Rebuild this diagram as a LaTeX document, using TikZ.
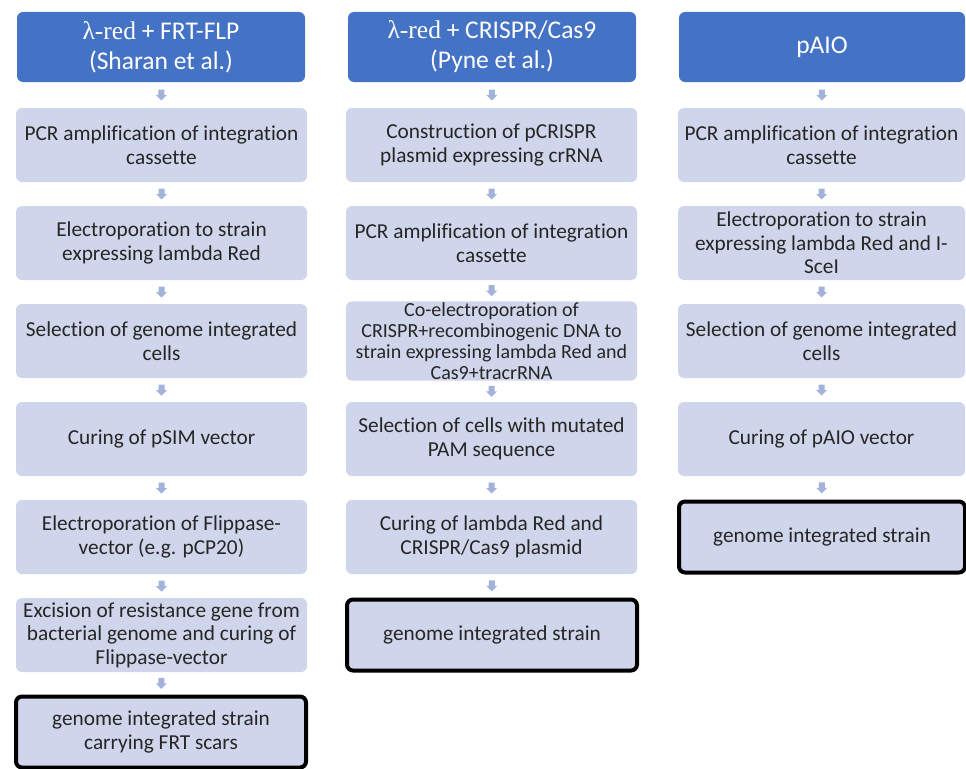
\documentclass[tikz,border=0pt]{standalone}
\usepackage{fontspec}
\setmainfont{Carlito}[Ligatures=NoCommon]
\newfontfamily\lamfont{Liberation Serif}
\definecolor{hdrblue}{HTML}{4472C4}
\definecolor{boxfill}{HTML}{CFD5EA}
\definecolor{arrowc}{HTML}{A3B2DA}
\definecolor{txtc}{HTML}{262626}
\tikzset{
  hdr/.style={fill=hdrblue, draw=none, rounded corners=6pt, minimum width=288pt, minimum height=70pt,
    text=white, align=center, inner sep=2pt, font=\fontsize{25.5}{30}\selectfont},
  stepbox/.style={fill=boxfill, draw=none, rounded corners=6pt, minimum width=291pt, minimum height=74pt,
    text=txtc, align=center, inner sep=1pt, font=\fontsize{21.3}{23.5}\selectfont},
  finalbox/.style={stepbox, draw=black, line width=4pt, minimum width=290pt, minimum height=71pt},
  downarr/.style={fill=arrowc, draw=none}
}
\begin{document}
\begin{tikzpicture}[x=1pt,y=-1pt]
\useasboundingbox (0,0) rectangle (966,768);
% column 1
\node[hdr] (h1) at (161,47) {{\lamfont λ-red} + FRT-FLP\\(Sharan et al.)};
\node[stepbox] (a1) at (161.5,145) {PCR amplification of integration\\cassette};
\node[stepbox] (a2) at (161.5,243) {Electroporation to strain\\expressing lambda Red};
\node[stepbox] (a3) at (161.5,341) {Selection of genome integrated\\cells};
\node[stepbox] (a4) at (161.5,439) {Curing of pSIM vector};
\node[stepbox] (a5) at (161.5,537) {Electroporation of Flippase-\\vector (e.g. pCP20)};
\node[stepbox] (a6) at (161.5,635) {Excision of resistance gene from\\bacterial genome and curing of\\Flippase-vector};
\node[finalbox] (a7) at (161,732) {genome integrated strain\\carrying FRT scars};
% column 2
\node[hdr] (h2) at (492,47) {{\lamfont λ-red} + CRISPR/Cas9\\(Pyne et al.)};
\node[stepbox] (b1) at (491.5,145) {Construction of pCRISPR\\plasmid expressing crRNA};
\node[stepbox] (b2) at (491.5,243) {PCR amplification of integration\\cassette};
\node[stepbox, font=\fontsize{20}{21}\selectfont] (b3) at (491.5,341) {Co-electroporation of\\CRISPR+recombinogenic DNA to\\strain expressing lambda Red and\\Cas9+tracrRNA};
\node[stepbox] (b4) at (491.5,439) {Selection of cells with mutated\\PAM sequence};
\node[stepbox] (b5) at (491.5,537) {Curing of lambda Red and\\CRISPR/Cas9 plasmid};
\node[finalbox] (b6) at (492,635) {genome integrated strain};
% column 3
\node[hdr, minimum width=286pt] (h3) at (822,47) {pAIO};
\node[stepbox, minimum width=287pt] (c1) at (821.5,145) {PCR amplification of integration\\cassette};
\node[stepbox, minimum width=287pt] (c2) at (821.5,243) {Electroporation to strain\\expressing lambda Red and I-\\SceI};
\node[stepbox, minimum width=287pt] (c3) at (821.5,341) {Selection of genome integrated\\cells};
\node[stepbox, minimum width=287pt] (c4) at (821.5,439) {Curing of pAIO vector};
\node[finalbox, minimum width=286pt] (c5) at (822,537) {genome integrated strain};
% arrows
\foreach \p/\q in {h1/a1,a1/a2,a2/a3,a3/a4,a4/a5,a5/a6,a6/a7,
                   h2/b1,b1/b2,b2/b3,b3/b4,b4/b5,b5/b6,
                   h3/c1,c1/c2,c2/c3,c3/c4,c4/c5}{
  \path (\p.south) -- (\q.north) coordinate[midway] (m);
  \fill[downarr] ([shift={(-3,-5.5)}]m) -- ([shift={(3,-5.5)}]m) -- ([shift={(3,0)}]m)
     -- ([shift={(5.5,0)}]m) -- ([shift={(0,5.5)}]m) -- ([shift={(-5.5,0)}]m)
     -- ([shift={(-3,0)}]m) -- cycle;
}
\end{tikzpicture}
\end{document}
